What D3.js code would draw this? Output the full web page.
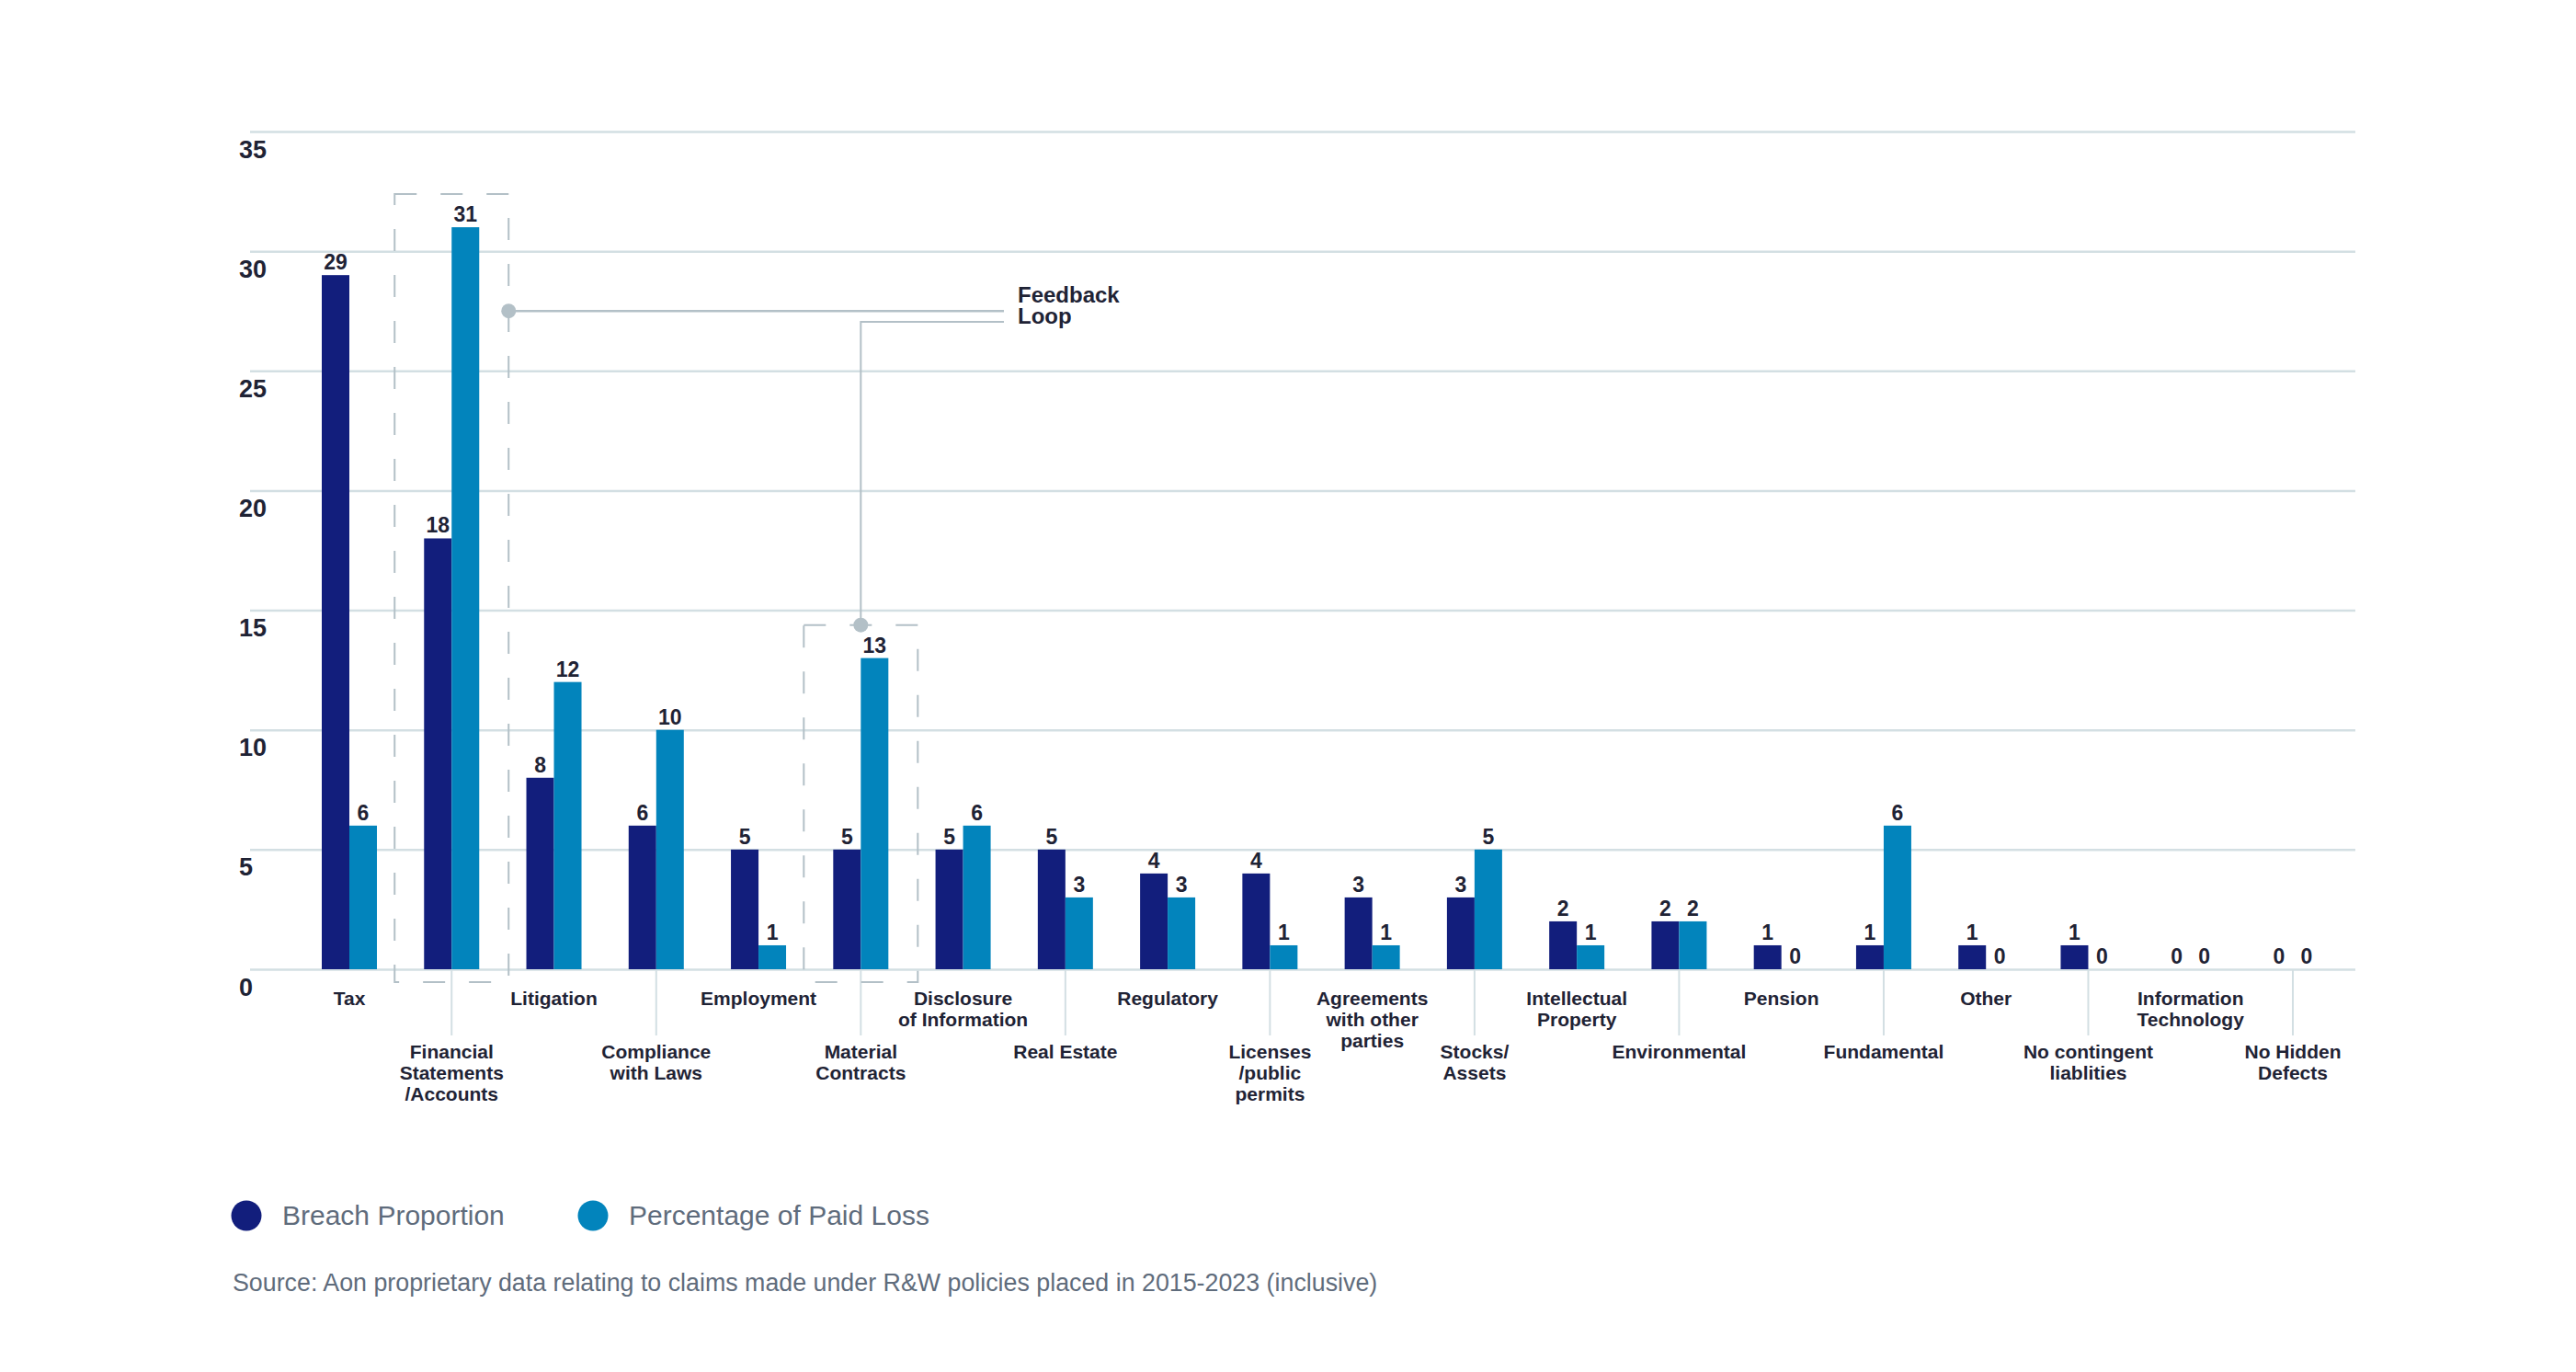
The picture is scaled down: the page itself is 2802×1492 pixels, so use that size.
<!DOCTYPE html>
<html>
<head>
<meta charset="utf-8">
<script src="https://cdn.jsdelivr.net/npm/d3@7"></script>
<style>
  body { margin: 0; background: #fff; }
  text { font-family: "Liberation Sans", Arial, sans-serif; }
</style>
</head>
<body>
<div id="chart"></div>
<script>
// categories, multi-line labels split on "\n"
var categories = ["Tax", "Financial\nStatements\n/Accounts", "Litigation", "Compliance\nwith Laws",
  "Employment", "Material\nContracts", "Disclosure\nof Information", "Real Estate", "Regulatory",
  "Licenses\n/public\npermits", "Agreements\nwith other\nparties", "Stocks/\nAssets",
  "Intellectual\nProperty", "Environmental", "Pension", "Fundamental", "Other",
  "No contingent\nliablities", "Information\nTechnology", "No Hidden\nDefects"];
var breachProportion = [29, 18, 8, 6, 5, 5, 5, 5, 4, 4, 3, 3, 2, 2, 1, 1, 1, 1, 0, 0];
var paidLoss = [6, 31, 12, 10, 1, 13, 6, 3, 3, 1, 1, 5, 1, 2, 0, 6, 0, 0, 0, 0];
var yTicks = [0, 5, 10, 15, 20, 25, 30, 35];
var seriesNames = ["Breach Proportion", "Percentage of Paid Loss"];
var seriesColors = ["#121e7c", "#0284bc"];
var feedbackCats = ["Financial\nStatements\n/Accounts", "Material\nContracts"];

var W = 2802, H = 1492;
var textColor = "#1f2335", gridColor = "#d3dfe3", noteColor = "#b3c0c7", mutedColor = "#5f6c7c";

var svg = d3.select("#chart").append("svg")
  .attr("width", W).attr("height", H);

var y = d3.scaleLinear().domain([0, 35]).range([1054, 143]);
var x = d3.scalePoint().domain(categories).range([380, 2494]);
var xSub = d3.scaleBand().domain(seriesNames).range([-30, 30]);

//gridlines + y labels
var gridLeft = 272, gridRight = 2562;
var yAxis = d3.axisRight(y).tickValues(yTicks).tickSize(gridRight - gridLeft);
svg.append("g")
  .attr("transform", "translate(" + gridLeft + ",0)")
  .call(yAxis)
  .call(function(g) { g.select(".domain").remove(); })
  .call(function(g) {
    g.selectAll(".tick line").attr("stroke", gridColor).attr("stroke-width", 2.5);
    g.selectAll(".tick text")
      .attr("x", -12).attr("dy", 28)
      .attr("text-anchor", "start")
      .attr("fill", textColor)
      .style("font-size", "27px").style("font-weight", "bold");
  });

//category ticks + labels (alternating rows)
var catGroup = svg.selectAll(".cat")
  .data(categories)
  .enter().append("g")
  .attr("class", "cat")
  .attr("transform", function(d) { return "translate(" + x(d) + ",0)"; });

catGroup.filter(function(d, i) { return i % 2 == 1; })
  .append("line")
  .attr("y1", y(0)).attr("y2", 1126)
  .attr("stroke", gridColor).attr("stroke-width", 2);

catGroup.append("text")
  .attr("text-anchor", "middle")
  .attr("fill", textColor)
  .style("font-size", "21px").style("font-weight", "bold")
  .each(function(d, i) {
    var base = i % 2 == 0 ? 1093 : 1151;
    d3.select(this).selectAll("tspan")
      .data(d.split("\n"))
      .enter().append("tspan")
      .attr("x", 0)
      .attr("y", function(t, j) { return base + j * 23; })
      .text(function(t) { return t; });
  });

//bars
var rows = categories.map(function(c, i) {
  return { cat: c, values: [
    { name: seriesNames[0], value: breachProportion[i] },
    { name: seriesNames[1], value: paidLoss[i] }
  ]};
});

var barGroup = svg.selectAll(".bars")
  .data(rows)
  .enter().append("g")
  .attr("transform", function(d) { return "translate(" + x(d.cat) + ",0)"; });

barGroup.selectAll("rect")
  .data(function(d) { return d.values; })
  .enter().append("rect")
  .attr("x", function(d) { return xSub(d.name); })
  .attr("width", xSub.bandwidth())
  .attr("y", function(d) { return y(d.value); })
  .attr("height", function(d) { return y(0) - y(d.value); })
  .attr("fill", function(d, i) { return seriesColors[i]; });

barGroup.selectAll(".val")
  .data(function(d) { return d.values; })
  .enter().append("text")
  .attr("class", "val")
  .attr("x", function(d) { return xSub(d.name) + xSub.bandwidth() / 2; })
  .attr("y", function(d) { return y(d.value) - 6; })
  .attr("text-anchor", "middle")
  .attr("fill", textColor)
  .style("font-size", "23px").style("font-weight", "bold")
  .text(function(d) { return d.value; });

//feedback loop annotation
var note = svg.append("g");
var boxes = feedbackCats.map(function(c) {
  var i = categories.indexOf(c);
  return { cx: x(c), top: y(paidLoss[i]) - 36 };
});
boxes.forEach(function(b) {
  note.append("rect")
    .attr("x", b.cx - 62).attr("y", b.top)
    .attr("width", 124).attr("height", y(0) + 14 - b.top)
    .attr("fill", "none")
    .attr("stroke", noteColor).attr("stroke-width", 2)
    .attr("stroke-dasharray", "24,26");
});
var labelX = 1092, line1Y = y(27.5), line2Y = 350;
note.append("line")
  .attr("x1", boxes[0].cx + 62).attr("x2", labelX)
  .attr("y1", line1Y).attr("y2", line1Y)
  .attr("stroke", noteColor).attr("stroke-width", 2.5);
note.append("path")
  .attr("d", "M" + labelX + "," + line2Y + "H" + boxes[1].cx + "V" + boxes[1].top)
  .attr("fill", "none")
  .attr("stroke", noteColor).attr("stroke-width", 2);
note.append("circle").attr("cx", boxes[0].cx + 62).attr("cy", line1Y).attr("r", 8).attr("fill", noteColor);
note.append("circle").attr("cx", boxes[1].cx).attr("cy", boxes[1].top).attr("r", 8).attr("fill", noteColor);
note.append("text")
  .attr("fill", textColor)
  .style("font-size", "24px").style("font-weight", "bold")
  .selectAll("tspan").data(["Feedback", "Loop"])
  .enter().append("tspan")
  .attr("x", labelX + 15)
  .attr("y", function(d, i) { return 329 + i * 23; })
  .text(function(d) { return d; });

//legend
var legendX = [268, 645];
var legend = svg.selectAll(".legend")
  .data(seriesNames)
  .enter().append("g")
  .attr("transform", function(d, i) { return "translate(" + legendX[i] + ",1322)"; });
legend.append("circle").attr("r", 16.5).attr("fill", function(d, i) { return seriesColors[i]; });
legend.append("text")
  .attr("x", 39).attr("y", 10)
  .attr("fill", mutedColor)
  .style("font-size", "30px")
  .text(function(d) { return d; });

//source
svg.append("text")
  .attr("x", 253).attr("y", 1404)
  .attr("fill", mutedColor)
  .style("font-size", "26.8px")
  .text("Source: Aon proprietary data relating to claims made under R&W policies placed in 2015-2023 (inclusive)");
</script>
</body>
</html>
